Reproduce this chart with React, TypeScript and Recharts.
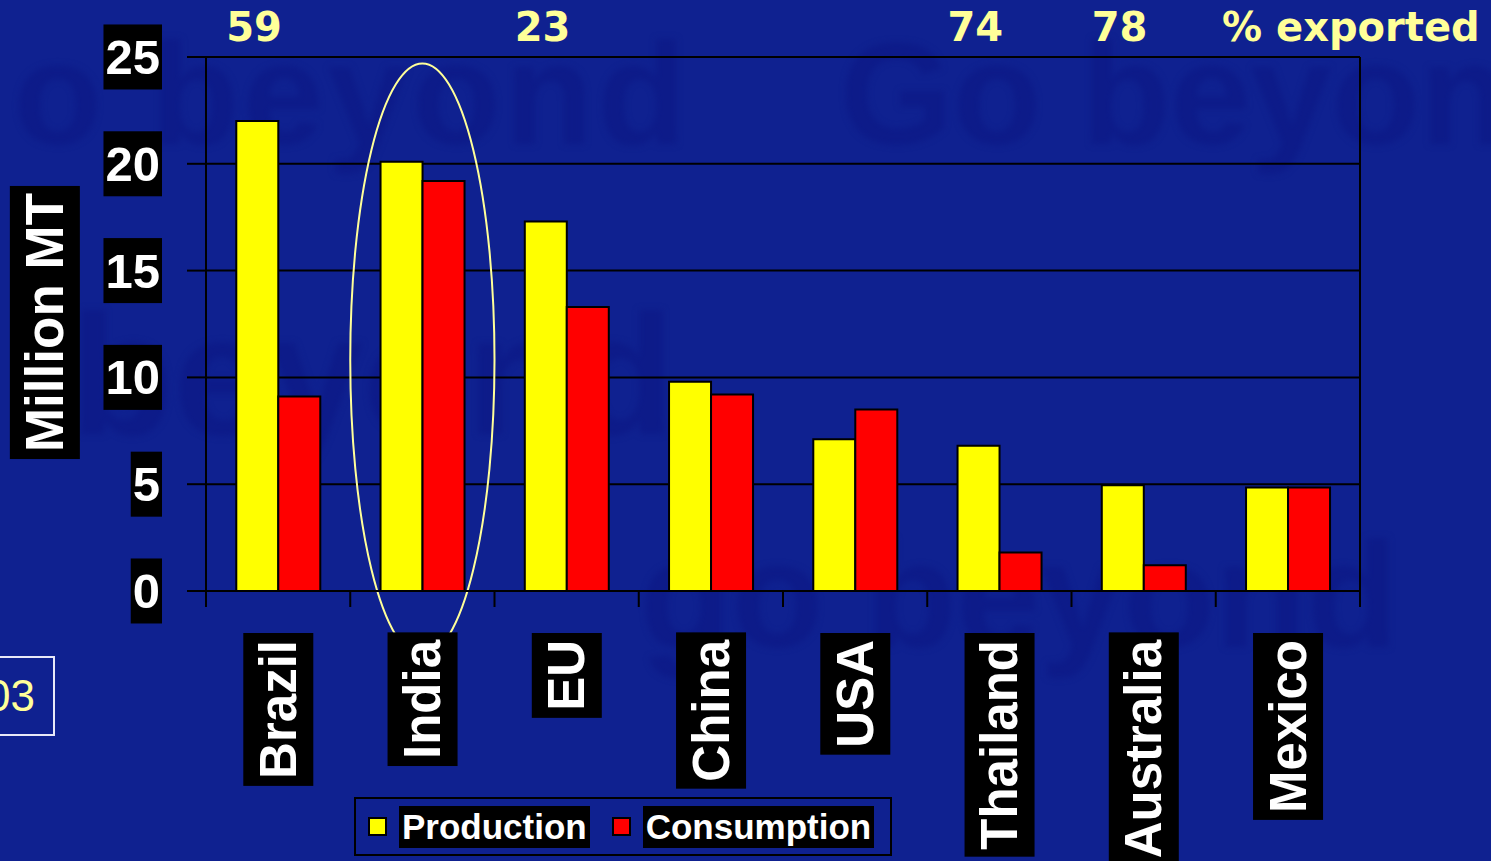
import React, { useLayoutEffect, useRef, useState } from 'react';
import {
  BarChart,
  Bar,
  XAxis,
  YAxis,
  CartesianGrid,
  Legend,
  ReferenceArea,
  ReferenceLine,
} from 'recharts';

// sugar: production vs consumption, million MT
const countries = ['Brazil', 'India', 'EU', 'China', 'USA', 'Thailand', 'Australia', 'Mexico'];
const production = [22.0, 20.1, 17.3, 9.8, 7.1, 6.8, 4.95, 4.85];
const consumption = [9.1, 19.2, 13.3, 9.2, 8.5, 1.8, 1.2, 4.85];
const exported: (number | null)[] = [59, null, 23, null, null, 74, 78, null];
const yTicks = [0, 5, 10, 15, 20, 25];
const seriesKeys = ['production', 'consumption'];
const highlighted = 'India';

const data = countries.map((country, i) => ({
  country,
  production: production[i],
  consumption: consumption[i],
}));

const BG = '#0f2190';
const ARIAL = '"Liberation Sans", Arial, sans-serif';
const VERDANA = '"DejaVu Sans", Verdana, sans-serif';
const PALE = '#ffff99';
const colors: Record<string, string> = { production: '#ffff00', consumption: '#ff0000' };

// white bold text sitting on a black box sized from the text's own bbox
type BoxedProps = {
  transform?: string;
  x: number;
  cy: number;
  text: string;
  size: number;
  anchor: 'start' | 'middle' | 'end';
  padAlong: number;
  padAcross: number;
};

function BoxedText({ transform, x, cy, text, size, anchor, padAlong, padAcross }: BoxedProps) {
  const ref = useRef<SVGTextElement>(null);
  const [box, setBox] = useState<{ x: number; y: number; w: number; h: number } | null>(null);

  useLayoutEffect(() => {
    if (!ref.current) return;
    const b = ref.current.getBBox();
    setBox({ x: b.x, y: b.y, w: b.width, h: b.height });
  }, [x, cy, text, size, anchor]);

  return (
    <g transform={transform}>
      {box && (
        <rect
          x={box.x - padAlong}
          y={box.y - padAcross}
          width={box.w + padAlong * 2}
          height={box.h + padAcross * 2}
          fill="#000"
        />
      )}
      <text
        ref={ref}
        x={x}
        y={cy + size * 0.3465}
        textAnchor={anchor}
        fill="#fff"
        fontSize={size}
        fontWeight="bold"
        fontFamily={ARIAL}
      >
        {text}
      </text>
    </g>
  );
}

const ValueTick = (props: any) => {
  const { x, y, payload } = props;
  return <BoxedText x={x} cy={y} text={String(payload.value)} size={49} anchor="end" padAlong={2} padAcross={5.5} />;
};

const CountryTick = (props: any) => {
  const { x, y, payload, index, width } = props;
  const half = payload?.offset || width / countries.length / 2;
  return (
    <g>
      <line x1={x - half} x2={x - half} y1={y} y2={y + 16} stroke="#000" strokeWidth={2} />
      {index === countries.length - 1 && (
        <line x1={x + half} x2={x + half} y1={y} y2={y + 16} stroke="#000" strokeWidth={2} />
      )}
      <BoxedText
        transform={`translate(${x}, ${y + 49}) rotate(-90)`}
        x={0}
        cy={0}
        text={payload.value}
        size={51}
        anchor="end"
        padAlong={7}
        padAcross={6.5}
      />
    </g>
  );
};

const ExportTick = (props: any) => {
  const { x, y, index } = props;
  const v = exported[index];
  if (v == null) return null;
  return (
    <text x={x - 24} y={y - 16} textAnchor="middle" fill={PALE} fontSize={40} fontWeight="bold" fontFamily={VERDANA}>
      {v}
    </text>
  );
};

const YLabel = (props: any) => {
  const vb = props.viewBox || { x: 0, y: 57, width: 206, height: 534 };
  return (
    <BoxedText
      transform={`translate(${vb.x + 45}, ${vb.y + vb.height / 2 - 1.5}) rotate(-90)`}
      x={0}
      cy={0}
      text="Million MT"
      size={53}
      anchor="middle"
      padAlong={7}
      padAcross={5.5}
    />
  );
};

const Ellipse = (p: any) => (
  <ellipse
    cx={p.x + p.width / 2}
    cy={p.y + p.height / 2}
    rx={Math.abs(p.width) / 2}
    ry={Math.abs(p.height) / 2}
    fill="none"
    stroke={PALE}
    strokeWidth={2}
  />
);

const LegendContent = (props: any) => {
  const items = [...(props.payload || [])].sort(
    (a: any, b: any) => seriesKeys.indexOf(a.dataKey) - seriesKeys.indexOf(b.dataKey)
  );
  return (
    <div style={{ display: 'flex', alignItems: 'center', height: '100%', paddingLeft: 12 }}>
      {items.map((p: any, i: number) => (
        <div key={i} style={{ display: 'flex', alignItems: 'center', marginRight: i === 0 ? 22 : 0 }}>
          <span
            style={{
              display: 'inline-block',
              width: 19,
              height: 19,
              background: colors[p.dataKey] || p.color,
              border: '2px solid #000',
              boxSizing: 'border-box',
              marginRight: 12,
            }}
          />
          <span
            style={{
              display: 'inline-block',
              background: '#000',
              color: '#fff',
              fontFamily: ARIAL,
              fontWeight: 'bold',
              fontSize: 35,
              height: 42,
              lineHeight: '42px',
              padding: '0 3px',
              whiteSpace: 'nowrap',
            }}
          >
            {p.value}
          </span>
        </div>
      ))}
    </div>
  );
};

const watermark: React.CSSProperties = {
  position: 'absolute',
  whiteSpace: 'nowrap',
  fontFamily: ARIAL,
  fontWeight: 'bold',
  color: '#0d1b89',
  lineHeight: 1,
  filter: 'blur(3px)',
};

export default function App() {
  return (
    <div
      style={{
        position: 'absolute',
        left: 0,
        top: 0,
        width: 1491,
        height: 861,
        overflow: 'hidden',
        background: BG,
      }}
    >
      {/* faint slide background */}
      <div style={{ ...watermark, fontSize: 145, right: 1491 - 690, top: 22, letterSpacing: 4 }}>o beyond</div>
      <div style={{ ...watermark, fontSize: 145, left: 840, top: 22 }}>Go beyond</div>
      <div style={{ ...watermark, fontSize: 170, left: 70, top: 290 }}>beyond</div>
      <div style={{ ...watermark, fontSize: 150, left: 640, top: 520 }}>go beyond</div>

      {/* cut-off date box at left */}
      <div
        style={{
          position: 'absolute',
          left: -65,
          top: 656,
          width: 120,
          height: 80,
          border: '2px solid #e8e8f8',
          boxSizing: 'border-box',
          color: PALE,
          fontFamily: ARIAL,
          fontSize: 44,
          lineHeight: '76px',
          textAlign: 'right',
          paddingRight: 21,
        }}
      >
        2003
      </div>

      <div style={{ position: 'absolute', left: 1222, top: 0 }}>
        <svg width={269} height={60}>
          <text x={0} y={41} fill={PALE} fontSize={40} fontWeight="bold" fontFamily={VERDANA}>
            % exported
          </text>
        </svg>
      </div>

      <div style={{ position: 'absolute', left: 0, top: 0 }}>
        <BarChart
          width={1491}
          height={861}
          data={data}
          margin={{ top: 0, right: 131, bottom: 0, left: 0 }}
          barCategoryGap="21%"
          barGap={0}
        >
          <CartesianGrid vertical={false} stroke="#000" strokeWidth={2} />
          <Bar
            dataKey="production"
            name="Production"
            fill={colors.production}
            stroke="#000"
            strokeWidth={2}
            isAnimationActive={false}
          />
          <Bar
            dataKey="consumption"
            name="Consumption"
            fill={colors.consumption}
            stroke="#000"
            strokeWidth={2}
            isAnimationActive={false}
          />
          <ReferenceArea
            x1={highlighted}
            x2={highlighted}
            y1={-3.05}
            y2={24.7}
            ifOverflow="visible"
            shape={Ellipse}
          />
          <ReferenceLine x={countries[countries.length - 1]} position="end" stroke="#000" strokeWidth={2} />
          <XAxis
            dataKey="country"
            height={270}
            interval={0}
            tickSize={0}
            tickMargin={0}
            tickLine={false}
            axisLine={{ stroke: '#000', strokeWidth: 2 }}
            tick={<CountryTick />}
          />
          <XAxis
            xAxisId="top"
            orientation="top"
            dataKey="country"
            height={57}
            interval={0}
            tickSize={0}
            tickMargin={0}
            tickLine={false}
            axisLine={false}
            tick={<ExportTick />}
          />
          <YAxis
            width={206}
            domain={[0, 25]}
            ticks={yTicks}
            interval={0}
            tickSize={19}
            tickMargin={27}
            tickLine={{ stroke: '#000', strokeWidth: 2 }}
            axisLine={{ stroke: '#000', strokeWidth: 2 }}
            tick={<ValueTick />}
            label={{ content: YLabel }}
          />
          <Legend
            layout="horizontal"
            align="center"
            verticalAlign="middle"
            content={<LegendContent />}
            wrapperStyle={{
              left: 354,
              top: 797,
              width: 538,
              height: 59,
              border: '2px solid #000',
              boxSizing: 'border-box',
            }}
          />
        </BarChart>
      </div>
    </div>
  );
}
